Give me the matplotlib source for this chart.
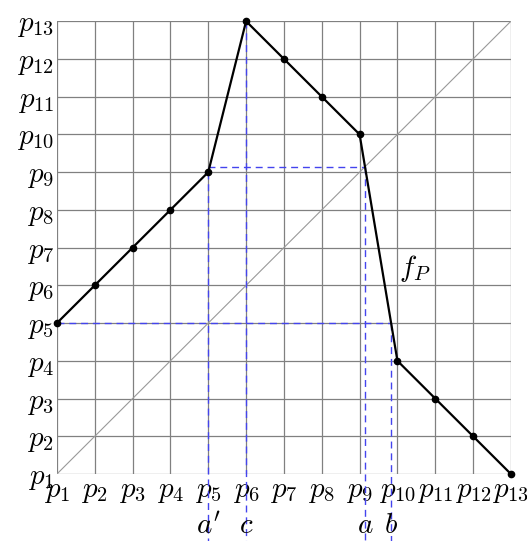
import matplotlib
matplotlib.use("Agg")
import matplotlib.pyplot as plt
import numpy as np

plt.rcParams['mathtext.fontset'] = 'cm'

# data
xs = [1, 2, 3, 4, 5, 6, 7, 8, 9, 10, 11, 12, 13]
fp = [5, 6, 7, 8, 9, 13, 12, 11, 10, 4, 3, 2, 1]
tick_labels = [r'$p_{%d}$' % i for i in xs]

# fixed point a and level points
a = 64 / 7.0           # f_P(a) = a on segment p9-p10
b = 9 + 5 / 6.0        # f_P(b) = p5
a_prime = 5
c = 6
fa = a

fig = plt.figure(figsize=(5.27, 5.41), dpi=100)
ax = fig.add_axes([0.108, 0.1238, 0.8615, 0.837])
ax.set_xlim(1, 13)
ax.set_ylim(1, 13)

# grid
for v in xs:
    ax.plot([v, v], [1, 13], color='#808080', lw=0.9, zorder=1)
    ax.plot([1, 13], [v, v], color='#808080', lw=0.9, zorder=1)

# diagonal
ax.plot([1, 13], [1, 13], color='#999999', lw=0.8, zorder=2)

# dashed helpers
dash = dict(color='#4444ee', lw=1.0, ls=(0, (5, 3.5)), zorder=3, clip_on=False)
ybot = -0.8
ax.plot([1, b], [5, 5], **dash)
ax.plot([b, b], [5, ybot], **dash)
ax.plot([a_prime, a], [fa, fa], **dash)
ax.plot([a, a], [fa, ybot], **dash)
ax.plot([a_prime, a_prime], [9, ybot], **dash)
ax.plot([c, c], [13, ybot], **dash)

# f_P
ax.plot(xs, fp, color='black', lw=1.6, marker='o', ms=4.5, zorder=4, clip_on=False)
ax.text(10.05, 6.45, r'$f_P$', fontsize=21, va='center', ha='left')

ax.set_xticks(xs)
ax.set_xticklabels(tick_labels, fontsize=21)
ax.set_yticks(xs)
ax.set_yticklabels(tick_labels, fontsize=21)
ax.tick_params(length=0, pad=2)
for s in ax.spines.values():
    s.set_visible(False)

for val, lab in [(a_prime, r"$a'$"), (c, r'$c$'), (a, r'$a$'), (b, r'$b$')]:
    ax.text(val, -0.36, lab, fontsize=21, ha='center', va='center')

fig.savefig('out.png', dpi=100)
